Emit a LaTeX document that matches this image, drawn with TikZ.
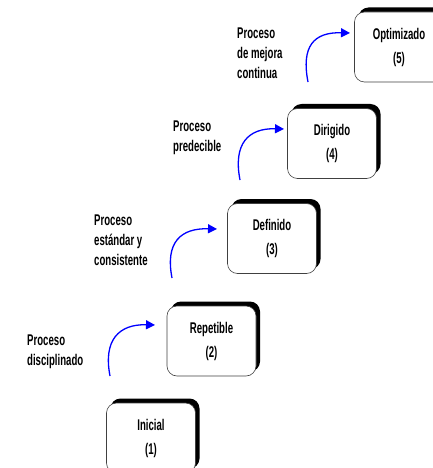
\documentclass[tikz,border=0pt]{standalone}
\usepackage{fontspec}
\newfontfamily\narrowfont[FakeStretch=0.62]{Liberation Sans}
\usetikzlibrary{arrows.meta,shadows}

\begin{document}
\begin{tikzpicture}[x=1pt, y=-1pt,
  every node/.style={font=\narrowfont\bfseries\fontsize{15.5}{20}\selectfont},
  nivel/.style={draw=black!75, line width=0.6pt, fill=white, rounded corners=10pt, minimum width=89pt, minimum height=70pt, align=center, font=\narrowfont\bfseries\fontsize{15.5}{24}\selectfont, drop shadow={shadow xshift=4pt, shadow yshift=4.5pt, fill=black, opacity=1}},
  paso/.style={blue, line width=1.3pt, -{Triangle[length=9pt,width=9pt]}},
  nota/.style={align=left, anchor=west, inner sep=0pt}]
		\useasboundingbox (0,0) rectangle (433,468);
		\node[nivel] (inicial) at (151,438) {Inicial\\(1)};
		\node[nivel] (repetible) at (211.5,341) {Repetible\\(2)};
		\node[nivel] (definido) at (272,238.5) {Definido\\(3)};
		\node[nivel] (dirigido) at (332,143.5) {Dirigido\\(4)};
		\node[nivel] (optimizado) at (399,47) {Optimizado\\(5)};
		\node[nota] (disciplinado) at (27,352) {Proceso\\disciplinado};
		\node[nota] (estandar) at (94,240) {Proceso\\estándar y\\consistente};
		\node[nota] (predecible) at (173,137.5) {Proceso\\predecible};
		\node[nota] (mejora) at (237,53) {Proceso\\de mejora\\continua};
		\coordinate (s1) at (110,376);
		\coordinate (t1) at (155,325);
		\coordinate (s2) at (172,278);
		\coordinate (t2) at (217,229);
		\coordinate (s3) at (240,180);
		\coordinate (t3) at (284,129);
		\coordinate (s4) at (308,82);
		\coordinate (t4) at (350,33);
		\draw[paso] (s1) .. controls +(-7,-36) and +(-36,-1) .. (t1);
		\draw[paso] (s2) .. controls +(-7,-36) and +(-36,-1) .. (t2);
		\draw[paso] (s3) .. controls +(-7,-36) and +(-36,-1) .. (t3);
		\draw[paso] (s4) .. controls +(-7,-36) and +(-36,-1) .. (t4);
	\end{tikzpicture}
\end{document}
